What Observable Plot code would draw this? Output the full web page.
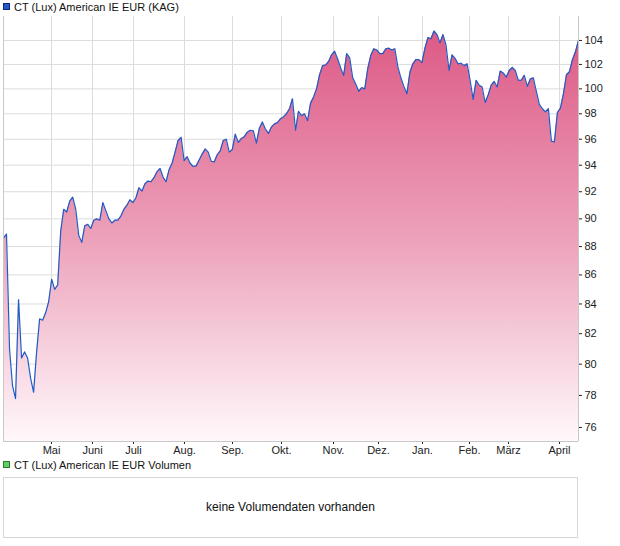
<!DOCTYPE html>
<html>
<head>
<meta charset="utf-8">
<script src="https://cdn.jsdelivr.net/npm/d3@7"></script>
<script src="https://cdn.jsdelivr.net/npm/@observablehq/plot@0.6"></script>
<style>
  html, body { margin: 0; padding: 0; background: #fff; }
  body { font-family: "Liberation Sans", Arial, sans-serif; }
  #wrap { position: relative; width: 620px; height: 546px; overflow: hidden; }
  .leg { height: 16px; line-height: 14px; font-size: 11px; color: #111; white-space: nowrap; position: relative; }
  .leg .sq { position: absolute; left: 3px; top: 3px; width: 5px; height: 5px; border: 1px solid; }
  .leg .txt { position: absolute; left: 14px; top: 0; }
  #volleg { height: 15px; line-height: 10px; }
  #volbox { margin-left: 3px; width: 573px; height: 59px; border: 1px solid #d6d6d6; text-align: center; line-height: 59px; font-size: 12px; color: #111; }
</style>
</head>
<body>
<div id="wrap">
  <div class="leg" id="mainleg"><span class="sq" style="background:#2457c9;border-color:#0d2a78"></span><span class="txt">CT (Lux) American IE EUR (KAG)</span></div>
  <div id="chart"></div>
  <div class="leg" id="volleg"><span class="sq" style="background:#66cc66;border-color:#2e7d2e;top:-1px"></span><span class="txt" style="top:-2px">CT (Lux) American IE EUR Volumen</span></div>
  <div id="volbox">keine Volumendaten vorhanden</div>
</div>
<script>
// Fund price series (one value per sampled trading day, mid-April to mid-April)
const values = [
  88.6, 88.9, 81.0, 78.6, 77.8, 84.3, 80.4, 80.8, 80.4, 79.1,
  78.2, 80.8, 83.0, 82.9, 83.4, 84.15, 85.7, 85.0, 85.3, 89.1,
  90.7, 90.5, 91.3, 91.6, 90.7, 88.8, 88.3, 89.5, 89.6, 89.3,
  89.9, 90.0, 89.9, 91.2, 90.6, 90.0, 89.7, 89.9, 89.9, 90.2,
  90.7, 91.0, 91.4, 91.2, 91.55, 92.3, 92.05, 92.6, 92.8, 92.75,
  93.05, 93.5, 93.75, 93.1, 92.75, 93.65, 94.15, 95.0, 95.9, 96.15,
  94.35, 94.65, 94.15, 93.9, 93.95, 94.4, 94.85, 95.25, 95.0, 94.3,
  94.25, 94.8, 95.1, 95.9, 96.0, 95.0, 95.2, 96.4, 95.75, 96.05,
  96.2, 96.55, 96.7, 96.65, 95.7, 96.85, 97.35, 96.8, 96.45, 96.95,
  97.2, 97.3, 97.6, 97.75, 98.0, 98.4, 99.2, 96.7, 98.2, 97.85,
  98.0, 97.45, 98.85, 99.35, 100.0, 101.15, 101.9, 101.95, 102.25, 102.8,
  103.1, 102.45, 101.7, 101.1, 102.9, 102.55, 100.9, 100.4, 99.8, 100.1,
  100.0, 101.65, 102.75, 103.3, 103.2, 102.9, 102.9, 103.3, 103.35, 103.2,
  103.3, 101.8, 100.9, 100.2, 99.6, 101.35, 102.05, 102.4, 102.4, 102.15,
  103.35, 104.25, 104.15, 104.8, 104.5, 103.8, 104.5, 103.6, 101.5, 102.8,
  102.5, 102.05, 102.1, 101.9, 102.05, 100.7, 99.15, 100.7, 100.3, 100.15,
  98.9, 99.5, 100.3, 100.6, 100.15, 101.45, 101.3, 100.95, 101.5, 101.75,
  101.5, 100.7, 100.7, 101.1, 100.2, 100.8, 100.9, 99.8, 98.75, 98.4,
  98.15, 98.4, 95.85, 95.8, 98.1, 98.45, 99.6, 101.15, 101.4, 102.4,
  103.05, 104.0
];

// Month tick labels and their positions (as index into the series)
const monthLabels = ["Mai", "Juni", "Juli", "Aug.", "Sep.", "Okt.", "Nov.", "Dez.", "Jan.", "Feb.", "März", "April"];
const monthPos = [15.94, 29.56, 43.18, 60.12, 76.07, 92.34, 109.62, 124.56, 139.18, 154.79, 167.75, 184.69];

// Y axis ticks
const yTicks = [76, 78, 80, 82, 84, 86, 88, 90, 92, 94, 96, 98, 100, 102, 104];
const yDomain = [75.14, 106.04];

const N = values.length;
const data = values.map((v, i) => ({ i, v, base: yDomain[0] }));

const chart = Plot.plot({
  width: 620,
  height: 446,
  marginLeft: 3,
  marginRight: 42,
  marginTop: 0,
  marginBottom: 21,
  style: {
    fontFamily: "'Liberation Sans', Arial, sans-serif",
    fontSize: "11px",
    color: "#222",
    background: "transparent",
    overflow: "visible"
  },
  x: {
    domain: [0, N - 1],
    ticks: monthPos,
    tickFormat: d => monthLabels[monthPos.indexOf(d)],
    tickSize: 3,
    tickPadding: 2,
    label: null
  },
  y: {
    type: "log",
    domain: yDomain,
    axis: "right",
    ticks: yTicks,
    tickFormat: () => "",
    tickSize: 3,
    label: null
  },
  marks: [
    Plot.ruleX(monthPos, { stroke: "#dcdcdc", strokeWidth: 1 }),
    Plot.ruleY(yTicks, { stroke: "#dcdcdc", strokeWidth: 1 }),
    Plot.areaY(data, { x: "i", y1: "base", y2: "v", fill: "url(#priceGrad)" }),
    Plot.lineY(data, { x: "i", y: "v", stroke: "#1f5bc6", strokeWidth: 1.2 }),
    Plot.ruleX([0, N - 1], { stroke: "#c8c8c8" }),
    Plot.ruleY([yDomain[0]], { stroke: "#c8c8c8" }),
    Plot.text(yTicks, {
      x: () => N - 1,
      y: d => d,
      text: d => String(d),
      textAnchor: "start",
      dx: 6,
      fill: "#222",
      fontSize: 11
    })
  ]
});

const ns = "http://www.w3.org/2000/svg";
const defs = document.createElementNS(ns, "defs");
const grad = document.createElementNS(ns, "linearGradient");
grad.setAttribute("id", "priceGrad");
grad.setAttribute("x1", "0"); grad.setAttribute("y1", "0");
grad.setAttribute("x2", "0"); grad.setAttribute("y2", "1");
[["0", "#dd5a86"], ["0.5", "#eca0b9"], ["1", "#fff8fb"]].forEach(([o, c]) => {
  const s = document.createElementNS(ns, "stop");
  s.setAttribute("offset", o);
  s.setAttribute("stop-color", c);
  grad.appendChild(s);
});
defs.appendChild(grad);
chart.insertBefore(defs, chart.firstChild);
chart.style.display = "block";

document.getElementById("chart").appendChild(chart);
</script>
</body>
</html>
